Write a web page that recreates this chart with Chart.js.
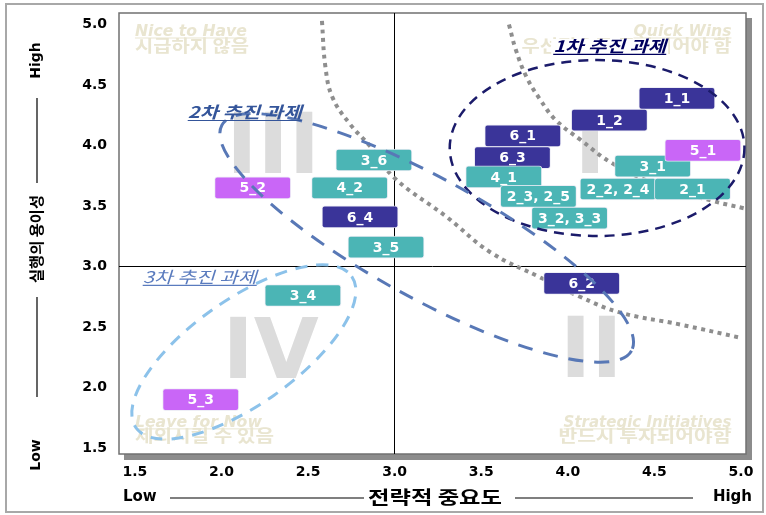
<!DOCTYPE html>
<html><head><meta charset="utf-8">
<script src="https://cdn.jsdelivr.net/npm/chart.js@4"></script>
<style>html,body{margin:0;padding:0;background:#fff;}#wrap{width:766px;height:515px;position:relative;}</style>
</head><body><div id="wrap"><canvas id="c" width="766" height="515" style="width:766px;height:515px"></canvas></div>
<script>
// ---------------- data ----------------
const navyLabels   = ['1_1','1_2','6_1','6_3','6_4','6_2'];
const navyX        = [4.63, 4.24, 3.74, 3.68, 2.80, 4.08];
const navyY        = [4.39, 4.21, 4.08, 3.90, 3.41, 2.86];
const tealLabels   = ['3_1','4_1','2_2, 2_4','2_1','2_3, 2_5','3_2, 3_3','3_6','4_2','3_5','3_4'];
const tealX        = [4.49, 3.63, 4.29, 4.72, 3.83, 4.01, 2.88, 2.74, 2.95, 2.47];
const tealY        = [3.83, 3.74, 3.64, 3.64, 3.58, 3.40, 3.88, 3.65, 3.16, 2.76];
const purpleLabels = ['5_1','5_2','5_3'];
const purpleX      = [4.78, 2.18, 1.88];
const purpleY      = [3.96, 3.65, 1.90];

const xTicks = [1.5, 2.0, 2.5, 3.0, 3.5, 4.0, 4.5, 5.0];
const yTicks = [1.5, 2.0, 2.5, 3.0, 3.5, 4.0, 4.5, 5.0];

// dotted boundary curves
const curve1X = [2.58, 2.60, 2.64, 2.74, 2.86, 3.00, 3.30, 3.55, 3.84, 4.07, 4.30, 4.65, 5.00];
const curve1Y = [5.03, 4.65, 4.40, 4.18, 3.99, 3.73, 3.41, 3.12, 2.91, 2.75, 2.62, 2.52, 2.41];
const curve2X = [3.66, 3.70, 3.76, 3.84, 3.93, 4.07, 4.26, 4.53, 4.84, 5.02];
const curve2Y = [5.00, 4.79, 4.57, 4.38, 4.21, 4.05, 3.85, 3.67, 3.54, 3.48];

// priority groups (dashed ellipses)
const groupNames  = ['1차 추진 과제', '2차 추진 과제', '3차 추진 과제'];
const groupCx     = [4.169, 3.185, 2.129];
const groupCy     = [3.979, 3.236, 2.293];
const groupEndX   = [5.020, 4.368, 2.752];
const groupEndY   = [3.979, 2.304, 2.919];
const groupRatio  = [0.597, 0.256, 0.40];
const groupLabelX = [4.242, 2.134, 1.874];
const groupLabelY = [4.773, 4.227, 2.864];

// quadrant captions
const quadEn = ['Nice to Have', 'Quick Wins', 'Leave for Now', 'Strategic Initiatives'];
const quadKo = ['시급하지 않음', '우선적으로 투자되어야 함', '제외시킬 수 있음', '반드시 투자되어야함'];
const quadX  = [1.5, 4.945, 1.5, 4.945];
const quadEnY = [4.905, 4.905, 1.674, 1.674];
const quadKoY = [4.773, 4.773, 1.550, 1.550];
const quadNumeral  = ['III', 'I', 'IV', 'II'];
const numeralX = [2.298, 4.129, 2.284, 4.135];
const numeralY = [3.773, 3.773, 2.079, 2.087];

// ---------------- styles ----------------
const HALF_W = 0.22;
const NAVY = '#3A3499', TEAL = '#4BB5B5', PURPLE = '#C966F7';
const allLabels = [purpleLabels, tealLabels, navyLabels];
const quadEnW = [112, 98, 127, 168];
const quadKoW = [114, 210, 139, 173];
const groupW  = [113, 114, 114];

function boxes(xs, ys){ return xs.map((x,i)=>({x:[x-HALF_W, x+HALF_W], y:ys[i]})); }
function pts(xs, ys){ return xs.map((x,i)=>({x:x, y:ys[i]})); }

const barStyle = {borderColor:'rgba(235,235,245,0.85)', borderWidth:1, borderRadius:3, borderSkipped:false, barThickness:22, grouped:false};

function fitFont(ctx, text, style, family, target){
  ctx.font = style + ' 20px ' + family;
  const w = ctx.measureText(text).width;
  const s = 20 * target / w;
  ctx.font = style + ' ' + s.toFixed(2) + 'px ' + family;
}
// draws text stretched horizontally to a target width; returns [x0, x1]
function scaledText(ctx, text, x, y, align, target){
  const w = ctx.measureText(text).width;
  const sx = target / w;
  const x0 = align==='center' ? x - target/2 : (align==='right' ? x - target : x);
  ctx.save(); ctx.translate(x0, y); ctx.scale(sx, 1); ctx.textAlign = 'left';
  ctx.fillText(text, 0, 0); ctx.restore();
  return [x0, x0 + target];
}
function underlineText(ctx, text, x, y, align, off){
  const w = ctx.measureText(text).width;
  let x0 = align==='center' ? x - w/2 : (align==='right' ? x - w : x);
  ctx.beginPath(); ctx.moveTo(x0, y+off); ctx.lineTo(x0+w, y+off); ctx.stroke();
}
const KO = '"Noto Sans CJK KR"', DV = '"DejaVu Sans"';

const deco = {
  id:'deco',
  beforeDraw(chart){
    const {ctx, chartArea:a} = chart;
    ctx.save();
    ctx.fillStyle='#fff'; ctx.fillRect(0,0,chart.width,chart.height);
    ctx.strokeStyle='#A8A8A8'; ctx.lineWidth=2; ctx.strokeRect(6,4,757,508);
    ctx.fillStyle='#8C8C8C'; ctx.fillRect(a.left+5,a.top+5,a.width+1,a.height+1);
    ctx.fillStyle='#fff'; ctx.fillRect(a.left,a.top,a.width,a.height);
    ctx.strokeStyle='#707070'; ctx.lineWidth=1.5; ctx.strokeRect(a.left,a.top,a.width,a.height);
    ctx.restore();
  },
  beforeDatasetsDraw(chart){
    const {ctx, scales:{x:xs, y:ys}} = chart;
    ctx.save();
    ctx.fillStyle='#DCDCDC'; ctx.textAlign='center'; ctx.textBaseline='alphabetic';
    ctx.font='bold 84px ' + DV;
    quadNumeral.forEach((t,i)=> ctx.fillText(t, xs.getPixelForValue(numeralX[i]), ys.getPixelForValue(numeralY[i])));
    const col='#E9E5D0';
    ctx.fillStyle=col; ctx.strokeStyle=col; ctx.lineWidth=1;
    quadEn.forEach((t,i)=>{
      const align = i%2===0 ? 'left':'right';
      ctx.textAlign=align;
      const px = xs.getPixelForValue(quadX[i]);
      fitFont(ctx, t, 'italic bold', DV, quadEnW[i]);
      const py = ys.getPixelForValue(quadEnY[i]);
      ctx.fillText(t, px, py);
      underlineText(ctx, t, px, py, align, 2);
      ctx.font = 'bold 17px ' + KO;
      scaledText(ctx, quadKo[i], px, ys.getPixelForValue(quadKoY[i]), align, quadKoW[i]);
    });
    ctx.restore();
  },
  afterDatasetDraw(chart, args){
    const labels = allLabels[args.index];
    if(!labels) return;
    const {ctx} = chart;
    ctx.save();
    ctx.fillStyle='#fff'; ctx.font='bold 14px ' + DV;
    ctx.textAlign='center'; ctx.textBaseline='middle';
    args.meta.data.forEach((el,i)=>{
      const p = el.getProps(['x','y','base'], true);
      ctx.fillText(labels[i], (p.x+p.base)/2, p.y+1);
    });
    ctx.restore();
  },
  afterDatasetsDraw(chart){
    const {ctx, scales:{x:xs, y:ys}} = chart;
    const cols = ['#1B1B6A','#5878B6','#8CC2EA'];
    const widths = [2.5, 3, 3];
    const dashes = [[10,7],[15,11],[12,9]];
    const tcols = ['#00005E','#34559A','#5A7BBE'];
    ctx.save();
    groupNames.forEach((n,i)=>{
      const cx = xs.getPixelForValue(groupCx[i]), cy = ys.getPixelForValue(groupCy[i]);
      const ex = xs.getPixelForValue(groupEndX[i]), ey = ys.getPixelForValue(groupEndY[i]);
      const a = Math.hypot(ex-cx, ey-cy), ang = Math.atan2(ey-cy, ex-cx);
      ctx.beginPath(); ctx.ellipse(cx, cy, a, a*groupRatio[i], ang, 0, Math.PI*2);
      ctx.strokeStyle=cols[i]; ctx.lineWidth=widths[i]; ctx.setLineDash(dashes[i]); ctx.stroke();
    });
    ctx.setLineDash([]);
    groupNames.forEach((n,i)=>{
      const px = xs.getPixelForValue(groupLabelX[i]), py = ys.getPixelForValue(groupLabelY[i]);
      ctx.font = (i===2 ? 'italic 16px ' : 'italic bold 16px ') + KO;
      ctx.textBaseline='alphabetic';
      const w = groupW[i];
      if(i===0){ ctx.fillStyle='#fff'; ctx.fillRect(px-w/2-2, py-13, w+4, 17); }
      ctx.fillStyle=tcols[i]; ctx.strokeStyle=tcols[i]; ctx.lineWidth=1.2;
      const [x0, x1] = scaledText(ctx, n, px, py, 'center', w);
      ctx.beginPath(); ctx.moveTo(x0, py+2.5); ctx.lineTo(x1, py+2.5); ctx.stroke();
    });
    ctx.restore();
  },
  afterDraw(chart){
    const {ctx} = chart;
    ctx.save();
    ctx.fillStyle='#000'; ctx.strokeStyle='#000'; ctx.lineWidth=1.2;
    ctx.textBaseline='middle';
    const ty = 497;
    ctx.font='bold 15px ' + DV;
    ctx.textAlign='left'; ctx.fillText('Low', 123, ty);
    ctx.textAlign='right'; ctx.fillText('High', 752, ty);
    ctx.font = 'bold 18px ' + KO;
    scaledText(ctx, '전략적 중요도', 435, ty, 'center', 134);
    ctx.beginPath(); ctx.moveTo(170, ty+1); ctx.lineTo(364, ty+1); ctx.moveTo(515, ty+1); ctx.lineTo(693, ty+1); ctx.stroke();
    const tx = 36;
    function rot(t, yc, font, target){ ctx.save(); ctx.translate(tx, yc); ctx.rotate(-Math.PI/2);
      ctx.font = font;
      if(target) scaledText(ctx, t, 0, 0, 'center', target); else { ctx.textAlign='center'; ctx.fillText(t,0,0); }
      ctx.restore(); }
    rot('High', 60.5, 'bold 14px ' + DV);
    rot('실행의 용이성', 239, 'bold 15px ' + KO, 88);
    rot('Low', 455, 'bold 14px ' + DV);
    ctx.beginPath(); ctx.moveTo(tx+1, 98); ctx.lineTo(tx+1, 183); ctx.moveTo(tx+1, 297); ctx.lineTo(tx+1, 397); ctx.stroke();
    ctx.restore();
  }
};

const tickFont = {family:'DejaVu Sans', size:14, weight:'bold'};
const crossGrid = {drawTicks:false, lineWidth:1, color: c => (c.tick && Math.abs(c.tick.value-3)<1e-9) ? '#000' : 'rgba(0,0,0,0)'};

new Chart(document.getElementById('c'), {
  type:'bar',
  data:{datasets:[
    Object.assign({label:'5', data:boxes(purpleX, purpleY), backgroundColor:PURPLE, order:0}, barStyle),
    Object.assign({label:'2-4', data:boxes(tealX, tealY), backgroundColor:TEAL, order:1}, barStyle),
    Object.assign({label:'1-6', data:boxes(navyX, navyY), backgroundColor:NAVY, order:2}, barStyle),
    {type:'line', label:'c1', data:pts(curve1X, curve1Y), borderColor:'#8E8E8E', borderWidth:4, borderDash:[4,4.5], borderCapStyle:'butt', pointRadius:0, tension:0.4, fill:false, order:10},
    {type:'line', label:'c2', data:pts(curve2X, curve2Y), borderColor:'#8E8E8E', borderWidth:4, borderDash:[4,4.5], borderCapStyle:'butt', pointRadius:0, tension:0.4, fill:false, order:10}
  ]},
  options:{
    indexAxis:'y',
    responsive:false, animation:false, devicePixelRatio:1,
    layout:{padding:{left:0, top:13, right:20, bottom:0}},
    plugins:{legend:{display:false}, tooltip:{enabled:false}},
    scales:{
      x:{type:'linear', min:1.408, max:5.029, offset:false,
         afterBuildTicks: s => { s.ticks = xTicks.map(v=>({value:v})); },
         afterFit: s => { s.height = 61; s.paddingLeft = 0; s.paddingRight = 0; },
         ticks:{font:tickFont, color:'#000', padding:10, maxRotation:0, autoSkip:false, callback:v=>Number(v).toFixed(1)},
         grid:Object.assign({offset:false}, crossGrid), border:{display:false}},
      y:{type:'linear', min:1.450, max:5.095, offset:false,
         afterBuildTicks: s => { s.ticks = yTicks.map(v=>({value:v})); },
         afterFit: s => { s.width = 119; s.paddingTop = 0; s.paddingBottom = 0; },
         ticks:{font:tickFont, color:'#000', padding:12, autoSkip:false, callback:v=>Number(v).toFixed(1)},
         grid:Object.assign({offset:false}, crossGrid), border:{display:false}}
    }
  },
  plugins:[deco]
});
</script>
</body></html>
